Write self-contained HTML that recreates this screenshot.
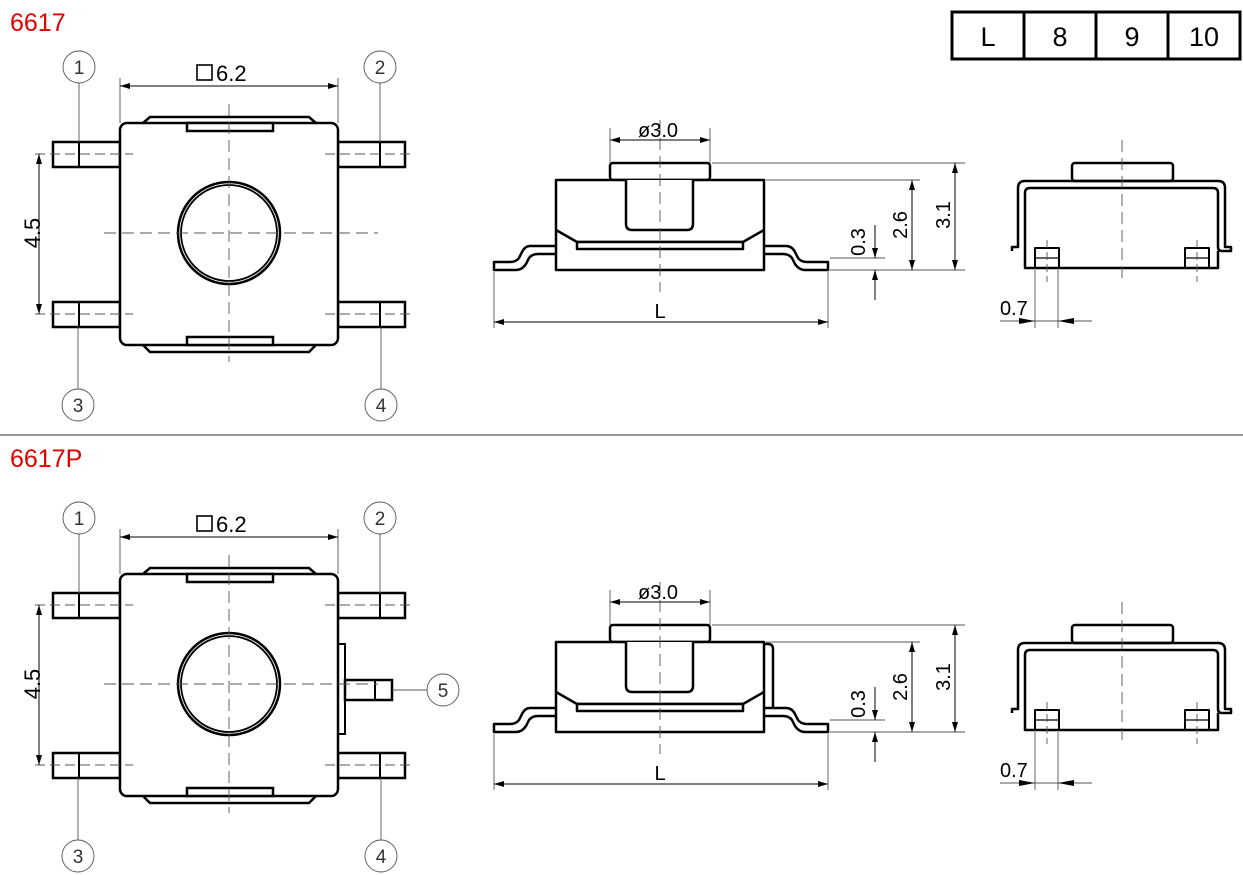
<!DOCTYPE html>
<html><head><meta charset="utf-8"><style>
html,body{margin:0;padding:0;background:#fff;}
svg{display:block;}
text{font-family:"Liberation Sans",sans-serif;}
</style></head><body>
<svg width="1243" height="875" viewBox="0 0 1243 875" xmlns="http://www.w3.org/2000/svg">
<defs>
<marker id="a" viewBox="0 0 10 6" refX="10" refY="3" markerWidth="16" markerHeight="6" orient="auto-start-reverse" markerUnits="userSpaceOnUse"><path d="M0,0L10,3L0,6z" fill="#000"/></marker>
<g id="top">
 <g fill="#fff" stroke="#000" stroke-width="2.5">
  <rect x="53" y="142" width="67" height="25"/><rect x="338" y="142" width="67" height="25"/>
  <rect x="53" y="302" width="67" height="25"/><rect x="338" y="302" width="67" height="25"/>
  <path d="M143,123L150,117H309L316,123"/>
  <path d="M143,345L150,352H309L316,345"/>
  <rect x="120" y="123" width="218" height="222" rx="7"/>
  <rect x="187" y="123" width="86" height="8"/>
  <rect x="187" y="337" width="86" height="8"/>
  <circle cx="229" cy="233" r="51"/>
  <circle cx="229" cy="233" r="48" stroke-width="1.8"/>
 </g>
 <g stroke="#000" stroke-width="2">
  <line x1="79" y1="142" x2="79" y2="167"/><line x1="380" y1="142" x2="380" y2="167"/>
  <line x1="79" y1="302" x2="79" y2="327"/><line x1="380" y1="302" x2="380" y2="327"/>
 </g>
 <g stroke="#555" stroke-width="0.9" fill="none">
  <line x1="229" y1="104" x2="229" y2="362" stroke-dasharray="12,6"/>
  <line x1="104" y1="233" x2="378" y2="233" stroke-dasharray="12,6"/>
  <line x1="35" y1="154" x2="133" y2="154" stroke-dasharray="10,5"/>
  <line x1="35" y1="314" x2="133" y2="314" stroke-dasharray="10,5"/>
  <line x1="325" y1="154" x2="415" y2="154" stroke-dasharray="10,5"/>
  <line x1="325" y1="314" x2="415" y2="314" stroke-dasharray="10,5"/>
  <line x1="120" y1="78" x2="120" y2="123"/><line x1="338" y1="78" x2="338" y2="123"/>
  <line x1="79" y1="83" x2="79" y2="142"/><line x1="380" y1="83" x2="380" y2="142"/>
  <line x1="78" y1="327" x2="78" y2="389"/><line x1="381" y1="327" x2="381" y2="389"/>
  <circle cx="79" cy="67" r="16"/><circle cx="380" cy="67" r="16"/>
  <circle cx="78" cy="405" r="16"/><circle cx="381" cy="405" r="16"/>
 </g>
 <g stroke="#000" stroke-width="1">
  <line x1="120" y1="86" x2="338" y2="86" marker-start="url(#a)" marker-end="url(#a)"/>
  <line x1="39" y1="154" x2="39" y2="314" marker-start="url(#a)" marker-end="url(#a)"/>
 </g>
 <rect x="197" y="65" width="15" height="15" fill="none" stroke="#000" stroke-width="1.6"/>
 <text x="216" y="81" font-size="22">6.2</text>
 <text transform="translate(40,233) rotate(-90)" font-size="22" text-anchor="middle">4.5</text>
 <g font-size="19" text-anchor="middle" fill="#333">
  <text x="79" y="74">1</text><text x="380" y="74">2</text>
  <text x="78" y="412">3</text><text x="381" y="412">4</text>
 </g>
</g>
<g id="side">
 <g fill="#fff" stroke="#000" stroke-width="2.5" stroke-linejoin="round">
  <path d="M556,246H530Q525,246 522,252L519,258Q516,262 510,262H494V270H516Q522,270 526,264L529,258Q532,254 538,254H556"/>
  <path d="M764,246H786Q792,246 795,252L798,258Q801,262 807,262H828V270H805Q799,270 795,264L792,258Q789,254 783,254H764"/>
  <rect x="610" y="163" width="100" height="17" rx="3"/>
  <rect x="556" y="180" width="208" height="90"/>
  <path d="M626,180V224Q626,230 632,230H687Q693,230 693,224V180"/>
  <path d="M556,230L577,242H743L764,230" fill="none"/>
  <rect x="577" y="242" width="166" height="7"/>
 </g>
 <g stroke="#555" stroke-width="0.9" fill="none">
  <line x1="660" y1="120" x2="660" y2="292" stroke-dasharray="12,6"/>
  <line x1="610" y1="128" x2="610" y2="163"/><line x1="710" y1="128" x2="710" y2="163"/>
  <line x1="712" y1="163" x2="965" y2="163"/>
  <line x1="766" y1="180" x2="920" y2="180"/>
  <line x1="830" y1="270" x2="965" y2="270"/>
  <line x1="830" y1="258" x2="885" y2="258"/>
  <line x1="494" y1="272" x2="494" y2="328"/><line x1="828" y1="272" x2="828" y2="328"/>
 </g>
 <g stroke="#000" stroke-width="1">
  <line x1="610" y1="140" x2="710" y2="140" marker-start="url(#a)" marker-end="url(#a)"/>
  <line x1="955" y1="163" x2="955" y2="270" marker-start="url(#a)" marker-end="url(#a)"/>
  <line x1="912" y1="180" x2="912" y2="270" marker-start="url(#a)" marker-end="url(#a)"/>
  <line x1="875" y1="225" x2="875" y2="258" marker-end="url(#a)"/>
  <line x1="875" y1="300" x2="875" y2="270" marker-end="url(#a)"/>
  <line x1="494" y1="322" x2="828" y2="322" marker-start="url(#a)" marker-end="url(#a)"/>
 </g>
 <text x="638" y="137" font-size="20">ø3.0</text>
 <text transform="translate(865,242) rotate(-90)" font-size="20" text-anchor="middle">0.3</text>
 <text transform="translate(907,225) rotate(-90)" font-size="20" text-anchor="middle">2.6</text>
 <text transform="translate(950,215) rotate(-90)" font-size="20" text-anchor="middle">3.1</text>
 <text x="660" y="318" font-size="20" text-anchor="middle">L</text>
</g>
<g id="end">
 <g fill="none" stroke="#000" stroke-width="2.5" stroke-linejoin="round">
  <rect x="1072" y="163" width="101" height="18" rx="3" fill="#fff"/>
  <path d="M1012,251V247H1018V188Q1018,181 1025,181H1218Q1225,181 1225,188V247H1231V251H1222Q1218,251 1218,247V193Q1218,188 1213,188H1030Q1025,188 1025,193V268H1218V251"/>
  <rect x="1035" y="248" width="24" height="20" stroke-width="2"/>
  <rect x="1185" y="248" width="24" height="20" stroke-width="2"/>
  <line x1="1035" y1="258" x2="1059" y2="258" stroke-width="1.3"/>
  <line x1="1185" y1="258" x2="1209" y2="258" stroke-width="1.3"/>
 </g>
 <g stroke="#555" stroke-width="0.9" fill="none">
  <line x1="1122" y1="140" x2="1122" y2="282" stroke-dasharray="12,6"/>
  <line x1="1047" y1="240" x2="1047" y2="282" stroke-dasharray="8,4"/>
  <line x1="1197" y1="240" x2="1197" y2="282" stroke-dasharray="8,4"/>
  <line x1="1035" y1="270" x2="1035" y2="328"/><line x1="1058" y1="270" x2="1058" y2="328"/>
  <line x1="1000" y1="321" x2="1092" y2="321"/>
 </g>
 <path d="M1019,318L1035,321L1019,324z M1074,318L1058,321L1074,324z" fill="#000"/>
 <text x="1000" y="315" font-size="20">0.7</text>
</g>
</defs>

<text x="10" y="31" font-size="25" fill="#e00000">6617</text>
<text x="10" y="467" font-size="25" fill="#e00000">6617P</text>
<line x1="0" y1="435" x2="1243" y2="435" stroke="#777" stroke-width="1.5"/>

<g stroke="#000" stroke-width="3" fill="none">
 <rect x="952" y="12" width="288" height="47"/>
 <line x1="1024" y1="12" x2="1024" y2="59"/><line x1="1096" y1="12" x2="1096" y2="59"/><line x1="1168" y1="12" x2="1168" y2="59"/>
</g>
<g font-size="27" text-anchor="middle">
 <text x="988" y="46">L</text><text x="1060" y="46">8</text><text x="1132" y="46">9</text><text x="1204" y="46">10</text>
</g>

<use href="#top"/>
<use href="#side"/>
<use href="#end"/>

<g transform="translate(0,451)">
 <rect x="338" y="193" width="7" height="90" fill="#fff" stroke="#000" stroke-width="2"/>
 <rect x="345" y="229" width="47" height="20" fill="#fff" stroke="#000" stroke-width="2.5"/>
 <line x1="375" y1="229" x2="375" y2="249" stroke="#000" stroke-width="2"/>
 <line x1="392" y1="239" x2="427" y2="239" stroke="#555" stroke-width="0.9"/>
 <circle cx="443" cy="239" r="16" fill="none" stroke="#555" stroke-width="0.9"/>
 <text x="443" y="246" font-size="19" text-anchor="middle" fill="#333">5</text>
 <use href="#top"/>
</g>
<g transform="translate(0,462)">
 <path d="M764,182H768Q773,182 773,187V252H765" fill="none" stroke="#000" stroke-width="2.5"/>
 <use href="#side"/>
 <use href="#end"/>
</g>
</svg>
</body></html>
